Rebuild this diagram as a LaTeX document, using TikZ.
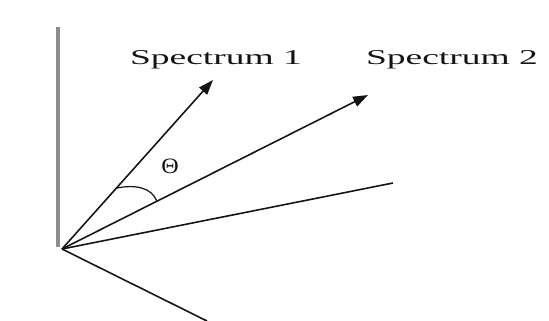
\documentclass[tikz,border=0pt]{standalone}
\usepackage{fontspec}
\setmainfont{Liberation Serif}
\usepackage{xcolor}
\usepackage{tikz}
\usetikzlibrary{calc,arrows.meta}
\definecolor{primary}{RGB}{20, 20, 20}
\definecolor{axisgray}{RGB}{140, 140, 140}

\begin{document}
\begin{tikzpicture}[x=0.02cm,y=-0.02cm]
\useasboundingbox (0,0) rectangle (549,321);
\coordinate (O) at (62,249);
\coordinate (T) at (58,27);
\coordinate (B) at (58,247);
\coordinate (S1) at (213,80);
\coordinate (S2) at (368,95);
\coordinate (C) at (393,183);
\coordinate (D) at (207,321);
\draw[axisgray,line width=1.8pt] (T) -- (B);
\draw[primary,line width=0.9pt,-{Triangle[length=8.5pt,width=6pt]}] (O) -- (S1);
\draw[primary,line width=0.9pt,-{Triangle[length=8.5pt,width=6pt]}] (O) -- (S2);
\draw[primary,line width=0.9pt] (O) -- (C);
\draw[primary,line width=0.9pt] (O) -- (D);
\coordinate (A1) at ($(O)!0.36!(S1)$);
\coordinate (A2) at ($(O)!0.31!(S2)$);
\draw[primary,line width=0.7pt] (A1) .. controls (136,184) and (152,188) .. (A2);
\node[primary,font=\fontsize{12.5}{14}\selectfont,xscale=1.1,inner sep=0pt] (theta) at (170,166) {Θ};
\node[primary,font=\fontsize{12}{14}\selectfont,xscale=1.78,anchor=base,inner sep=0pt] (lab1) at (216,65) {Spectrum 1};
\node[primary,font=\fontsize{12}{14}\selectfont,xscale=1.78,anchor=base,inner sep=0pt] (lab2) at (452,65) {Spectrum 2};
\end{tikzpicture}
\end{document}
